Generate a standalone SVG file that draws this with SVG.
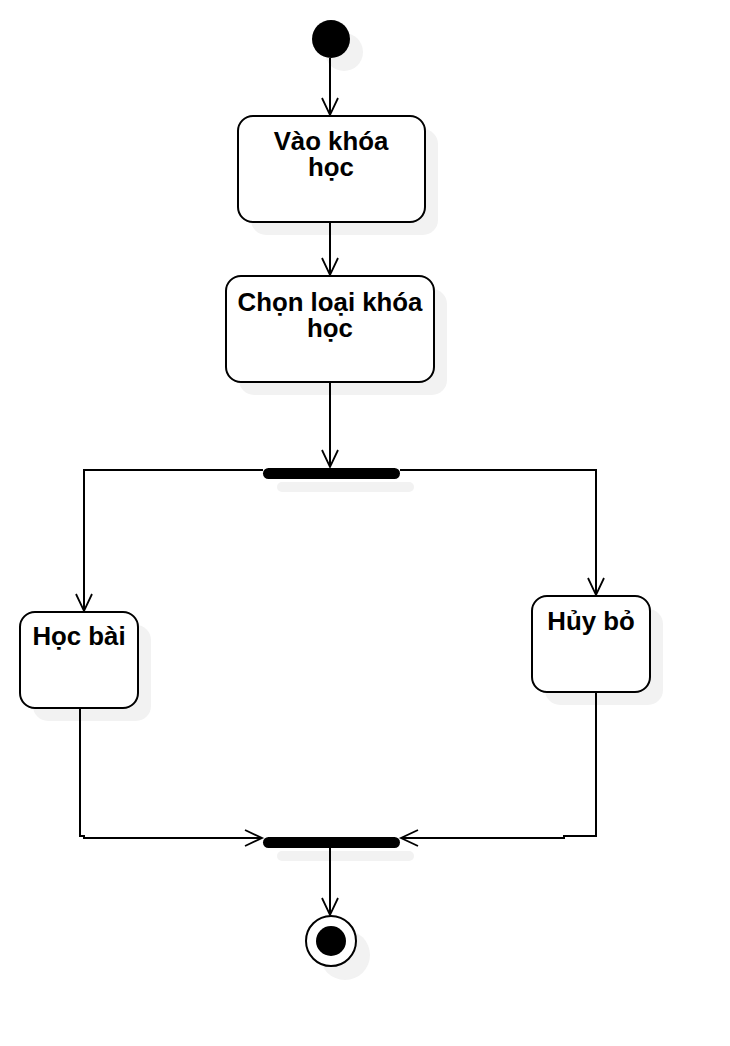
<svg xmlns="http://www.w3.org/2000/svg" width="730" height="1046" viewBox="0 0 730 1046">
<defs>
<marker id="open" markerWidth="22" markerHeight="22" refX="18" refY="9" orient="auto" markerUnits="userSpaceOnUse">
<path d="M1,1 L18,9 L1,17" fill="none" stroke="#000" stroke-width="1.8"/>
</marker>
</defs>
<style>
.box{fill:#fff;stroke:#000;stroke-width:2}
.sh{fill:#f2f2f2}
.lbl{font-family:"Liberation Sans",Arial,sans-serif;font-weight:bold;font-size:25.8px;fill:#000;text-anchor:middle}
.edge{fill:none;stroke:#000;stroke-width:2;marker-end:url(#open)}
</style>
<rect width="730" height="1046" fill="#fff"/>
<g id="start">
<circle class="sh" cx="344" cy="52" r="19"/>
<circle cx="331" cy="39" r="19" fill="#000"/>
</g>
<g id="vao">
<rect class="sh" x="251" y="129" width="187" height="106" rx="15"/>
<rect class="box" x="238" y="116" width="187" height="106" rx="15"/>
<text class="lbl"><tspan x="331" y="150">Vào khóa</tspan><tspan x="331" y="176">học</tspan></text>
</g>
<g id="chon">
<rect class="sh" x="239" y="289" width="208" height="106" rx="15"/>
<rect class="box" x="226" y="276" width="208" height="106" rx="15"/>
<text class="lbl"><tspan x="330" y="310.5">Chọn loại khóa</tspan><tspan x="330" y="337">học</tspan></text>
</g>
<g id="fork">
<rect class="sh" x="277" y="482" width="137" height="10" rx="5"/>
<rect x="263" y="468" width="137" height="11" rx="5.5" fill="#000"/>
</g>
<g id="hocbai">
<rect class="sh" x="33" y="625" width="118" height="96" rx="15"/>
<rect class="box" x="20" y="612" width="118" height="96" rx="15"/>
<text class="lbl" x="79" y="645">Học bài</text>
</g>
<g id="huybo">
<rect class="sh" x="545" y="609" width="118" height="96" rx="15"/>
<rect class="box" x="532" y="596" width="118" height="96" rx="15"/>
<text class="lbl" x="591" y="630">Hủy bỏ</text>
</g>
<g id="join">
<rect class="sh" x="277" y="851" width="137" height="10" rx="5"/>
<rect x="263" y="837" width="137" height="11" rx="5.5" fill="#000"/>
</g>
<g id="end">
<circle class="sh" cx="345" cy="955" r="25"/>
<circle cx="331" cy="941" r="25" fill="#fff" stroke="#000" stroke-width="2"/>
<circle cx="331" cy="941" r="15" fill="#000"/>
</g>
<g id="connectors">
<path class="edge" d="M330,58 L330,115"/>
<path class="edge" d="M330,223 L330,275"/>
<path class="edge" d="M330,383 L330,467"/>
<path class="edge" d="M263,470 L84,470 L84,611"/>
<path class="edge" d="M400,470 L596,470 L596,595"/>
<path class="edge" d="M80,708 L80,836 L84,836 L84,838 L262,838"/>
<path class="edge" d="M596,692 L596,836 L564,836 L564,838 L401,838"/>
<path class="edge" d="M330,848 L330,915"/>
</g>
</svg>
